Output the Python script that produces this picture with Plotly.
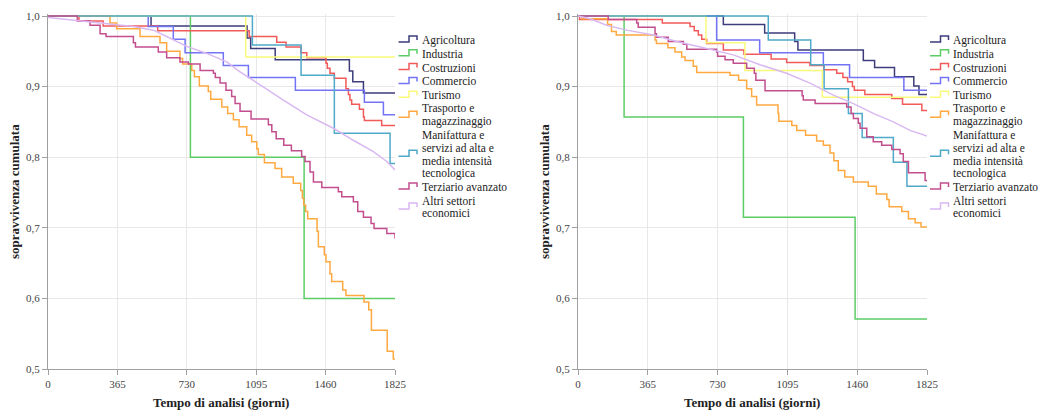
import plotly.graph_objects as go

W, H = 1039, 406
OFF = 8

# ---------------- data (Kaplan-Meier estimates) ----------------
categories = ["Agricoltura", "Industria", "Costruzioni", "Commercio", "Turismo",
              "Trasporto e magazzinaggio",
              "Manifattura e servizi ad alta e media intensità tecnologica",
              "Terziario avanzato", "Altri settori economici"]
legend_lines = [["Agricoltura"], ["Industria"], ["Costruzioni"], ["Commercio"], ["Turismo"],
                ["Trasporto e", "magazzinaggio"],
                ["Manifattura e", "servizi ad alta e", "media intensità", "tecnologica"],
                ["Terziario avanzato"], ["Altri settori", "economici"]]

x_ticks = [0, 365, 730, 1095, 1460, 1825]
y_ticks = [0.5, 0.6, 0.7, 0.8, 0.9, 1.0]

# ---- left panel ----
agri_L_t = [0, 542, 1047, 1066, 1195, 1585, 1603, 1659, 1825]
agri_L_s = [1.0, 0.986, 0.969, 0.954, 0.938, 0.922, 0.907, 0.891, 0.891]
indu_L_t = [0, 749, 1347, 1825]
indu_L_s = [1.0, 0.800, 0.600, 0.600]
cost_L_t = [0, 163, 290, 577, 1058, 1203, 1252, 1331, 1361, 1462, 1469, 1483, 1506, 1567, 1580, 1588,
            1597, 1638, 1659, 1664, 1755, 1825]
cost_L_s = [1.0, 0.993, 0.986, 0.979, 0.971, 0.963, 0.956, 0.948, 0.941, 0.933, 0.926, 0.919, 0.912,
            0.897, 0.889, 0.881, 0.875, 0.868, 0.857, 0.852, 0.845, 0.845]
comm_L_t = [0, 527, 659, 721, 922, 1054, 1301, 1664, 1764, 1825]
comm_L_s = [1.0, 0.985, 0.967, 0.948, 0.930, 0.913, 0.895, 0.878, 0.860, 0.860]
turi_L_t = [0, 1040, 1825]
turi_L_s = [1.0, 0.942, 0.942]
tras_L_t = [0, 326, 361, 484, 589, 624, 694, 708, 756, 770, 796, 843, 856, 914, 945, 975, 1005, 1045,
            1071, 1098, 1106, 1138, 1194, 1229, 1290, 1329, 1338, 1345, 1355, 1366, 1415, 1422, 1453,
            1462, 1483, 1492, 1550, 1567, 1662, 1687, 1701, 1784, 1816, 1825]
tras_L_s = [1.0, 0.990, 0.982, 0.971, 0.962, 0.950, 0.940, 0.932, 0.923, 0.914, 0.901, 0.893, 0.882,
            0.871, 0.862, 0.853, 0.843, 0.831, 0.822, 0.812, 0.804, 0.792, 0.784, 0.772, 0.763, 0.753,
            0.742, 0.732, 0.723, 0.713, 0.695, 0.673, 0.662, 0.652, 0.635, 0.624, 0.612, 0.604, 0.595,
            0.584, 0.555, 0.525, 0.514, 0.514]
mani_L_t = [0, 1075, 1331, 1506, 1799, 1825]
mani_L_s = [1.0, 0.959, 0.916, 0.834, 0.791, 0.791]
terz_L_t = [0, 154, 221, 274, 305, 449, 460, 580, 624, 694, 738, 800, 870, 880, 905, 936, 966, 984,
            1010, 1068, 1159, 1177, 1200, 1240, 1280, 1334, 1352, 1378, 1396, 1440, 1527, 1545, 1606,
            1629, 1659, 1699, 1715, 1782, 1825]
terz_L_s = [1.0, 0.993, 0.987, 0.975, 0.971, 0.962, 0.956, 0.949, 0.941, 0.935, 0.932, 0.923, 0.919,
            0.913, 0.905, 0.895, 0.886, 0.876, 0.865, 0.854, 0.846, 0.836, 0.826, 0.817, 0.809, 0.801,
            0.794, 0.779, 0.765, 0.757, 0.751, 0.744, 0.737, 0.723, 0.715, 0.706, 0.699, 0.692, 0.685]
altr_L_t = [0, 151, 274, 449, 554, 624, 730, 835, 940, 1010, 1115, 1238, 1361, 1501, 1606, 1711, 1782, 1825]
altr_L_s = [0.998, 0.994, 0.990, 0.985, 0.980, 0.971, 0.957, 0.947, 0.935, 0.921, 0.902, 0.881, 0.860,
            0.841, 0.824, 0.808, 0.794, 0.782]

# ---- right panel ----
agri_R_t = [0, 760, 976, 1133, 1150, 1492, 1551, 1655, 1756, 1783, 1825]
agri_R_s = [1.0, 0.988, 0.976, 0.964, 0.952, 0.937, 0.927, 0.914, 0.901, 0.889, 0.889]
indu_R_t = [0, 241, 865, 1449, 1825]
indu_R_s = [1.0, 0.857, 0.715, 0.571, 0.571]
cost_R_t = [0, 8, 441, 586, 608, 629, 647, 673, 760, 868, 1010, 1091, 1213, 1285, 1353, 1385, 1410,
            1435, 1445, 1500, 1641, 1697, 1798, 1825]
cost_R_s = [1.0, 0.995, 0.990, 0.985, 0.979, 0.973, 0.967, 0.961, 0.952, 0.946, 0.939, 0.934, 0.930,
            0.924, 0.919, 0.913, 0.907, 0.900, 0.895, 0.889, 0.883, 0.875, 0.866, 0.866]
comm_R_t = [0, 725, 950, 1283, 1420, 1704, 1825]
comm_R_s = [1.0, 0.966, 0.948, 0.931, 0.913, 0.895, 0.895]
turi_R_t = [0, 669, 873, 1278, 1825]
turi_R_s = [1.0, 0.962, 0.923, 0.885, 0.885]
tras_R_t = [0, 20, 155, 175, 200, 403, 410, 470, 507, 542, 560, 603, 621, 795, 840, 882, 908, 934,
            1046, 1050, 1118, 1144, 1190, 1248, 1283, 1318, 1338, 1361, 1395, 1440, 1518, 1560, 1615,
            1627, 1693, 1728, 1763, 1794, 1825]
tras_R_s = [1.0, 0.996, 0.988, 0.978, 0.973, 0.966, 0.961, 0.955, 0.949, 0.942, 0.937, 0.929, 0.920,
            0.916, 0.909, 0.897, 0.886, 0.874, 0.862, 0.851, 0.845, 0.838, 0.831, 0.823, 0.817, 0.806,
            0.795, 0.781, 0.772, 0.765, 0.759, 0.748, 0.740, 0.730, 0.723, 0.713, 0.707, 0.701, 0.701]
mani_R_t = [0, 995, 1217, 1287, 1414, 1486, 1649, 1720, 1825]
mani_R_s = [1.0, 0.966, 0.931, 0.897, 0.862, 0.828, 0.793, 0.759, 0.759]
terz_R_t = [0, 158, 307, 315, 403, 410, 472, 551, 569, 725, 730, 769, 812, 882, 922, 930, 978, 1172,
            1178, 1240, 1405, 1428, 1440, 1466, 1475, 1510, 1544, 1588, 1641, 1684, 1701, 1728, 1815, 1825]
terz_R_s = [1.0, 0.995, 0.990, 0.984, 0.975, 0.970, 0.964, 0.960, 0.953, 0.949, 0.943, 0.938, 0.933,
            0.926, 0.919, 0.909, 0.894, 0.887, 0.881, 0.876, 0.871, 0.862, 0.855, 0.848, 0.841, 0.829,
            0.822, 0.817, 0.811, 0.805, 0.794, 0.778, 0.767, 0.767]
altr_R_t = [0, 63, 150, 255, 394, 516, 673, 812, 952, 1091, 1213, 1335, 1440, 1544, 1649, 1736, 1825]
altr_R_s = [1.0, 0.996, 0.987, 0.980, 0.973, 0.964, 0.954, 0.945, 0.931, 0.919, 0.905, 0.888, 0.876,
            0.862, 0.850, 0.838, 0.830]

left_series = [(agri_L_t, agri_L_s), (indu_L_t, indu_L_s), (cost_L_t, cost_L_s), (comm_L_t, comm_L_s),
               (turi_L_t, turi_L_s), (tras_L_t, tras_L_s), (mani_L_t, mani_L_s), (terz_L_t, terz_L_s),
               (altr_L_t, altr_L_s)]
right_series = [(agri_R_t, agri_R_s), (indu_R_t, indu_R_s), (cost_R_t, cost_R_s), (comm_R_t, comm_R_s),
                (turi_R_t, turi_R_s), (tras_R_t, tras_R_s), (mani_R_t, mani_R_s), (terz_R_t, terz_R_s),
                (altr_R_t, altr_R_s)]

# ---------------- styles ----------------
colors = ["#3d3d7c", "#5ccc66", "#f25a5a", "#7373f5", "#fafa7a", "#ffa940", "#4fa9c9", "#c24e8e", "#d9b8f2"]
shapes_kind = ["hv", "hv", "hv", "hv", "hv", "hv", "hv", "hv", "linear"]
FONT = "serif"

def X(px):
    return (px - OFF) / W

def Y(py):
    return 1 - (py - OFF) / H

fig = go.Figure()

for (ax, series) in [("", left_series), ("2", right_series)]:
    for i, (t, s) in enumerate(series):
        fig.add_trace(go.Scatter(
            x=t, y=s, mode="lines", name=categories[i], showlegend=False,
            line=dict(color=colors[i], width=1.5, shape=shapes_kind[i]),
            xaxis="x" + ax, yaxis="y" + ax, hoverinfo="skip"))

y_dom = [Y(369), Y(13.9)]
axis_common = dict(showline=True, linecolor="#a0a0a0", linewidth=1, ticks="outside", ticklen=5,
                   tickcolor="#a0a0a0", showgrid=True, gridcolor="#e8e8e8", gridwidth=1,
                   zeroline=False, automargin=False,
                   tickfont=dict(family=FONT, size=11, color="#444444"))

layout = dict(
    width=W, height=H, margin=dict(l=0, r=0, t=0, b=0, autoexpand=False),
    paper_bgcolor="white", plot_bgcolor="white",
    separators=",.", font=dict(family=FONT),
    showlegend=False,
)
for ax, x0, x1 in [("", 48, 395), ("2", 578, 927)]:
    layout["xaxis" + ax] = dict(domain=[X(x0), X(x1)], range=[0, 1825], tickvals=x_ticks,
                                tickformat="d", anchor="y" + ax, **axis_common)
    layout["yaxis" + ax] = dict(domain=y_dom, range=[0.5, 1.003], tickvals=y_ticks,
                                tickformat=".1f", anchor="x" + ax, **axis_common)
fig.update_layout(**layout)

# ---------------- axis titles ----------------
annotations = []
for cx, ycx in [(221, 14), (752, 544)]:
    annotations.append(dict(text="<b>Tempo di analisi (giorni)</b>", x=X(cx), y=Y(402), xref="paper",
                            yref="paper", showarrow=False, xanchor="center", yanchor="middle",
                            font=dict(family=FONT, size=13, color="#222222")))
    annotations.append(dict(text="<b>sopravvivenza cumulata</b>", x=X(ycx), y=Y(192), xref="paper",
                            yref="paper", showarrow=False, xanchor="center", yanchor="middle",
                            textangle=-90, font=dict(family=FONT, size=13, color="#222222")))

# ---------------- legends (one per panel) ----------------
shapes = []
LINE_STEP, ITEM_GAP, FIRST = 12.6, 1.2, 40.0
for icon_x0, text_x in [(398.5, 419.5), (930, 950.5)]:
    y = FIRST
    for i, lines in enumerate(legend_lines):
        first_y = y
        for ln in lines:
            annotations.append(dict(text=ln, x=X(text_x), y=Y(y), xref="paper", yref="paper",
                                    showarrow=False, xanchor="left", yanchor="middle",
                                    font=dict(family=FONT, size=11.5, color="#222222")))
            y += LINE_STEP
        last_y = y - LINE_STEP
        mid = (first_y + last_y) / 2
        bot, top = mid + 2.0, mid - 4.0
        xa, xb, xc = icon_x0, icon_x0 + 10.5, icon_x0 + 18.5
        path = (f"M {X(xa)},{Y(bot)} L {X(xb)},{Y(bot)} L {X(xb)},{Y(top)} "
                f"L {X(xc)},{Y(top)} L {X(xc)},{Y(mid)}")
        shapes.append(dict(type="path", path=path, xref="paper", yref="paper",
                           line=dict(color=colors[i], width=1.5)))
        y += ITEM_GAP

fig.update_layout(annotations=annotations, shapes=shapes)
fig.write_html("out.html")
